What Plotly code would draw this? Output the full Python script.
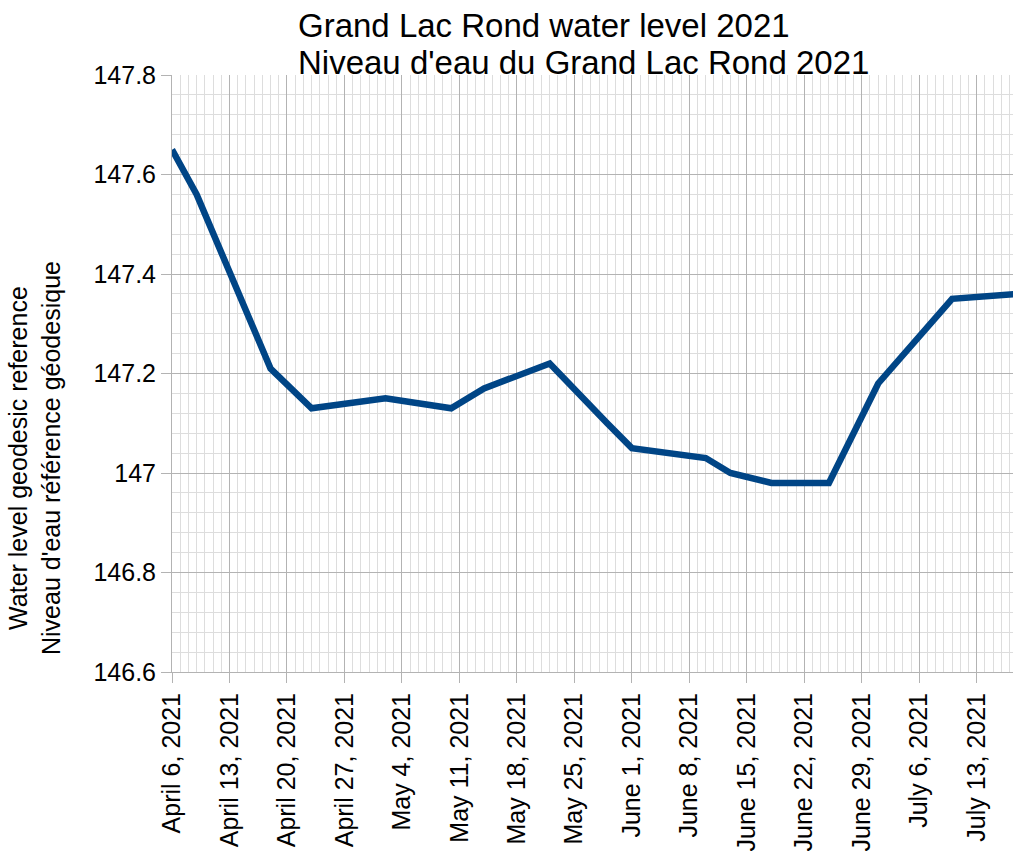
import plotly.graph_objects as go

dates = ["2021-04-06", "2021-04-09", "2021-04-18", "2021-04-23", "2021-05-02",
         "2021-05-10", "2021-05-14", "2021-05-22", "2021-05-29", "2021-06-01",
         "2021-06-10", "2021-06-13", "2021-06-18", "2021-06-25", "2021-07-01",
         "2021-07-10", "2021-07-18"]
levels = [147.65, 147.56, 147.21, 147.13, 147.15,
          147.13, 147.17, 147.22, 147.10, 147.05,
          147.03, 147.00, 146.98, 146.98, 147.18,
          147.35, 147.36]

title_lines = ["Grand Lac Rond water level 2021", "Niveau d'eau du Grand Lac Rond 2021"]
ytitle_text = "Water level geodesic reference<br>Niveau d'eau référence géodesique"

FONT = "Liberation Sans, Arial, sans-serif"
W, H = 1013, 861
L, R, T, B = 172, 0, 75, 189

fig = go.Figure()
fig.add_trace(go.Scatter(x=dates, y=levels, mode="lines",
                         line=dict(color="#004586", width=6.5),
                         hoverinfo="x+y", showlegend=False))

fig.update_layout(
    width=W, height=H,
    margin=dict(l=L, r=R, t=T, b=B, autoexpand=False),
    paper_bgcolor="white", plot_bgcolor="white",
    font=dict(family=FONT, color="black"),
)

fig.update_xaxes(
    type="date",
    range=["2021-04-06", "2021-07-17 10:00"],
    tick0="2021-04-06", dtick=7 * 86400000,
    tickformat="%B %-d, %Y", tickangle=-90,
    tickfont=dict(size=25, family=FONT, color="black"),
    ticks="outside", ticklen=10, tickcolor="#b3b3b3",
    showgrid=True, gridcolor="#b3b3b3", gridwidth=1,
    showline=True, linecolor="#b3b3b3", linewidth=1,
    zeroline=False, automargin=False,
    minor=dict(dtick=86400000, showgrid=True, gridcolor="#dddddd", gridwidth=1),
)
fig.update_yaxes(
    range=[146.6, 147.8], dtick=0.2, tick0=146.6,
    tickformat="~g",
    tickfont=dict(size=25, family=FONT, color="black"),
    ticks="outside", ticklen=10, tickcolor="#b3b3b3",
    showgrid=True, gridcolor="#b3b3b3", gridwidth=1,
    showline=True, linecolor="#b3b3b3", linewidth=1,
    zeroline=False, automargin=False,
    minor=dict(dtick=0.04, showgrid=True, gridcolor="#dddddd", gridwidth=1),
)

pw, ph = W - L - R, H - T - B


def px_x(x):
    return (x - L) / pw


def px_y(y):
    return (H - B - y) / ph


# title lines (left aligned)
for txt, yc in zip(title_lines, [25, 62]):
    fig.add_annotation(text=txt, showarrow=False, xref="paper", yref="paper",
                       x=px_x(296), y=px_y(yc), xanchor="left", yanchor="middle",
                       font=dict(size=33, family=FONT, color="black"))

fig.add_annotation(text=ytitle_text, textangle=-90, showarrow=False,
                   xref="paper", yref="paper", x=px_x(34), y=px_y(458),
                   xanchor="center", yanchor="middle",
                   font=dict(size=25, family=FONT, color="black"))

fig.write_html("out.html", config={"displayModeBar": False},
               post_script="document.body.style.margin='0';")
